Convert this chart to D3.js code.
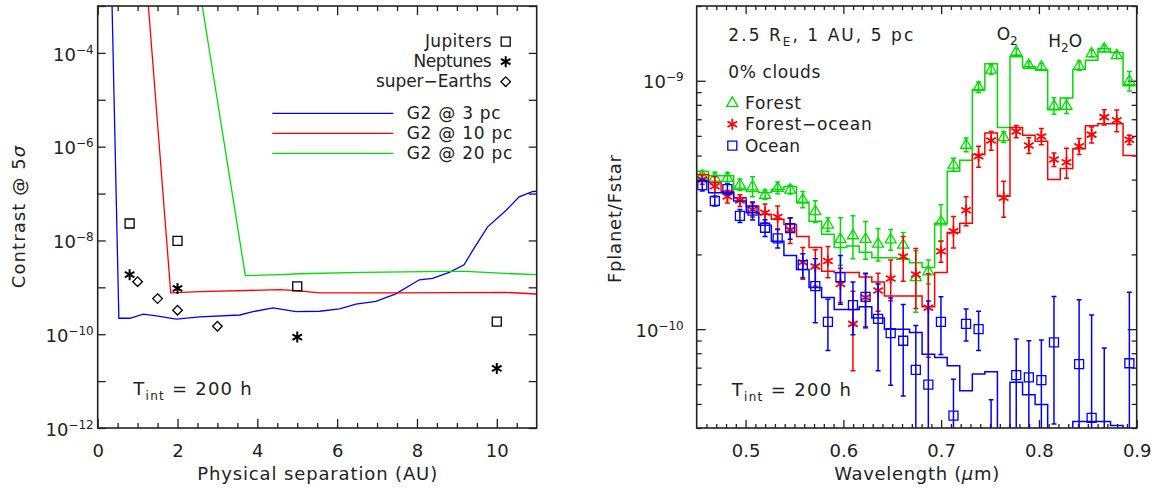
<!DOCTYPE html>
<html lang="en">
<head>
<meta charset="utf-8">
<title>contrast curves and spectra</title>
<script src="https://d3js.org/d3.v7.min.js"></script>
<style>
body { margin: 0; background: #fff; }
svg text { font-family: "DejaVu Sans", sans-serif; }
.pre { white-space: pre; }
</style>
</head>
<body>
<script>

// ---- left panel: 5 sigma contrast vs separation (AU)
var sepBlue = [0.36,0.53,0.81,1.14,1.47,1.97,2.56,3.56,3.89,4.39,4.97,5.56,6.06,6.47,6.97,7.47,8.06,8.39,8.81,9.18,9.42,9.77,10.23,10.56,10.89,11.0];
var conBlue = [1e-3,2.19e-10,2.19e-10,2.69e-10,2.45e-10,2.09e-10,2.34e-10,2.57e-10,3.02e-10,3.63e-10,3.02e-10,3.09e-10,3.47e-10,4.37e-10,5.01e-10,7.24e-10,1.45e-9,1.55e-9,2.09e-9,3.02e-9,6.61e-9,1.95e-8,4.37e-8,8.51e-8,1.10e-7,1.12e-7];
var sepRed = [1.27,1.83,2.56,4.56,4.97,5.56,7.47,10.23,11.0];
var conRed = [1e-3,7.6e-10,8.1e-10,8.9e-10,8.5e-10,7.6e-10,7.6e-10,7.8e-10,7.2e-10];
var sepGreen = [2.62,3.7,4.56,5.06,6.64,8.73,9.22,10.39,11.0];
var conGreen = [1e-3,1.78e-9,1.86e-9,1.95e-9,2.09e-9,2.19e-9,2.19e-9,1.95e-9,1.86e-9];
var curveNames = ["G2 @ 3 pc", "G2 @ 10 pc", "G2 @ 20 pc"];

var jupSep = [0.8, 2, 5, 10];
var jupCon = [2.3e-8, 9.8e-9, 1.05e-9, 1.86e-10];
var nepSep = [0.8, 2, 5, 10];
var nepCon = [1.86e-9, 9.5e-10, 8.7e-11, 1.86e-11];
var seSep = [1, 1.5, 2, 3];
var seCon = [1.32e-9, 5.75e-10, 3.24e-10, 1.48e-10];
var planetNames = ["Jupiters", "Neptunes", "super\u2212Earths"];

// ---- right panel: Fplanet/Fstar, in units of 1e-10
var unit = 1e-10;
var wavelength = [0.4557,0.4685,0.4814,0.4942,0.5071,0.5199,0.5328,0.5456,0.5585,0.5713,0.5842,0.5970,0.6098,0.6227,0.6355,0.6484,0.6612,0.6741,0.6869,0.6998,0.7126,0.7255,0.7383,0.7511,0.7640,0.7768,0.7897,0.8025,0.8154,0.8282,0.8411,0.8539,0.8668,0.8796,0.8925];

var forestModel = [4.32,4.15,4.15,3.65,3.58,3.55,3.65,3.75,3.24,2.72,2.41,2.13,2.16,2.04,1.94,1.94,1.91,1.85,1.77,2.67,4.32,4.79,9.2,11.7,6.49,12.5,11.4,11.1,7.65,8.52,11.1,12.1,13.5,13.0,9.55];
var forestObs = [4.15,4.08,4.07,3.82,3.76,3.48,3.71,3.65,3.33,2.99,2.64,2.31,2.39,2.31,2.21,2.30,2.19,1.62,1.71,2.72,4.60,5.53,9.43,11.1,5.94,13.1,11.6,11.4,7.94,7.94,11.5,12.9,13.5,12.7,10.0];
var forestErr = [0.16,0.2,0.2,0.2,0.35,0.15,0.2,0.15,0.25,0.3,0.17,0.5,0.47,0.4,0.33,0.22,0.26,0.45,0.19,0.45,0.28,0.35,0.45,0.5,0.3,0.4,0.35,0.35,0.6,0.55,0.5,0.4,0.4,0.4,0.9];

var mixModel = [4.19,3.89,3.59,3.38,3.13,2.90,2.77,2.64,2.36,2.13,1.71,1.69,1.69,1.62,1.55,1.36,1.36,1.36,1.23,1.69,2.45,2.67,5.05,6.16,3.43,6.49,6.03,5.71,4.00,4.43,5.33,6.59,6.72,6.72,5.00];
var mixObs = [4.00,3.76,3.42,3.30,3.03,2.94,2.83,2.51,1.86,1.79,1.88,1.52,1.05,1.34,1.43,1.60,1.96,1.66,1.22,2.06,2.48,3.01,4.97,5.75,3.38,6.25,5.49,5.97,4.82,4.70,5.45,6.07,7.14,6.93,5.79];
var mixErr = [0.17,0.35,0.2,0.18,0.2,0.25,0.3,0.3,0.27,0.3,0.27,0.24,0.37,0.33,0.25,0.3,0.4,0.45,0.45,0.2,0.36,0.4,0.48,0.5,0.56,0.35,0.4,0.45,0.3,0.65,0.4,0.45,0.5,0.7,0.25];

var oceanModel = [3.94,3.54,3.54,3.28,2.94,2.62,2.26,1.98,1.74,1.47,1.34,1.20,1.20,1.23,1.11,1.00,1.00,0.970,0.793,0.769,0.712,0.565,0.660,0.674,0.35,0.611,0.544,0.497,0.36,0.33,0.425,0.425,0.425,0.409,0.35];
var oceanObs = [3.80,3.28,3.66,2.86,3.00,2.56,2.32,2.55,1.81,1.49,1.07,1.62,1.25,1.35,1.10,0.964,0.898,0.685,0.598,1.07,0.449,1.05,1.00,0.18,0.10,0.653,0.639,0.624,0.885,0.12,0.723,0.439,0.20,0.08,0.729];
var oceanErr = [0.2,0.15,0.18,0.17,0.25,0.2,0.2,0.25,0.2,0.43,0.25,0.36,0.3,0.33,0.42,0.37,0.36,0.35,0.7,0.28,0.18,0.155,0.18,0.34,0.25,0.26,0.26,0.28,0.47,0.25,0.59,0.7,0.64,0.3,0.68];
var spectraNames = ["Forest", "Forest\u2212ocean", "Ocean"];

var ink = "#222";
var cBlue = "#0000ff", cRed = "#ff0000", cGreen = "#00dd00";

var svg = d3.select("body").append("svg").attr("width", 1157).attr("height", 489);

// marker shapes (IDL-like psym)
function sym(kind) {
  if (kind == "square") return "M-4.5,-4.5H4.5V4.5H-4.5Z";
  if (kind == "diamond") return "M0,-4.8L4.8,0L0,4.8L-4.8,0Z";
  if (kind == "triangle") return "M0,-5.8L5.5,3.6L-5.5,3.6Z";
  var r = 5.5, c = r * Math.cos(Math.PI / 6), s = r * Math.sin(Math.PI / 6);
  return "M0," + (-r) + "V" + r + "M" + (-c) + "," + (-s) + "L" + c + "," + s + "M" + (-c) + "," + s + "L" + c + "," + (-s);
}

function frame(g, b) {
  g.append("rect").attr("x", b.l).attr("y", b.t).attr("width", b.r - b.l).attr("height", b.b - b.t)
    .attr("fill", "none").attr("stroke", ink).attr("stroke-width", 1.6);
}

// inward ticks without labels
function tickSet(g, axis, vals, len, tr) {
  var a = g.append("g").attr("transform", tr).call(axis.tickValues(vals).tickSize(-len).tickFormat(""));
  a.select(".domain").remove();
  a.selectAll(".tick text").remove();
  a.selectAll(".tick line").attr("stroke", ink).attr("stroke-width", 1.3);
  return a;
}

function numLabels(g, axis, vals, fmt, tr) {
  var a = g.append("g").attr("transform", tr).call(axis.tickValues(vals).tickSize(0).tickPadding(16).tickFormat(fmt));
  a.select(".domain").remove();
  a.selectAll(".tick text").attr("font-size", 18).attr("fill", ink);
}

function powerLabels(g, axis, vals, pad, tr) {
  var a = g.append("g").attr("transform", tr).call(axis.tickValues(vals).tickSize(0).tickPadding(pad).tickFormat(""));
  a.select(".domain").remove();
  a.selectAll(".tick text").each(function(d) {
    var t = d3.select(this).attr("font-size", 18).attr("fill", ink).attr("dy", "0.4em");
    t.append("tspan").text("10");
    t.append("tspan").attr("dy", -7).attr("font-size", 12).text("\u2212" + Math.round(-Math.log10(d)));
  });
}

// text made of parts: plain strings, or {t, sub (dy down, small), up (dy), it}
function label(g, x, y, parts, opts) {
  opts = opts || {};
  var t = g.append("text").attr("class", "pre").attr("x", x).attr("y", y)
    .attr("font-size", opts.size || 17).attr("fill", ink)
    .attr("text-anchor", opts.anchor || "start");
  if (opts.len) t.attr("textLength", opts.len).attr("lengthAdjust", "spacing");
  if (opts.rotate) t.attr("transform", "rotate(-90," + x + "," + y + ")");
  parts.forEach(function(p) {
    if (typeof p == "string") p = {t: p};
    var s = t.append("tspan").text(p.t);
    if (p.sub) s.attr("font-size", 12).attr("dy", p.sub);
    if (p.up) s.attr("dy", p.up);
    if (p.it) s.attr("font-style", "italic");
  });
  return t;
}

// ================= left panel =================
var lb = {l: 97.7, r: 536.7, t: 6, b: 428};
var xSep = d3.scaleLinear().domain([0, 11]).range([lb.l, lb.r]);
var yCon = d3.scaleLog().domain([1e-12, 1e-3]).range([lb.b, lb.t]);
var gL = svg.append("g");

svg.append("clipPath").attr("id", "clipL").append("rect")
  .attr("x", lb.l).attr("y", lb.t).attr("width", lb.r - lb.l).attr("height", lb.b - lb.t);

var sepMajor = [0, 2, 4, 6, 8, 10];
var sepMinor = d3.range(0.5, 11, 0.5).filter(function(d) { return d % 2 != 0; });
var decades = d3.range(-12, -2).map(function(e) { return Math.pow(10, e); });
var evenDecades = [1e-12, 1e-10, 1e-8, 1e-6, 1e-4];

tickSet(gL, d3.axisBottom(xSep), sepMajor, 9, "translate(0," + lb.b + ")");
tickSet(gL, d3.axisBottom(xSep), sepMinor, 5, "translate(0," + lb.b + ")");
tickSet(gL, d3.axisTop(xSep), sepMajor, 9, "translate(0," + lb.t + ")");
tickSet(gL, d3.axisTop(xSep), sepMinor, 5, "translate(0," + lb.t + ")");
tickSet(gL, d3.axisLeft(yCon), decades, 8, "translate(" + lb.l + ",0)");
tickSet(gL, d3.axisRight(yCon), decades, 8, "translate(" + lb.r + ",0)");
numLabels(gL, d3.axisBottom(xSep), sepMajor, d3.format("d"), "translate(0," + lb.b + ")");
powerLabels(gL, d3.axisLeft(yCon), evenDecades, 4, "translate(" + lb.l + ",0)");

var conLine = d3.line().x(function(d) { return xSep(d[0]); }).y(function(d) { return yCon(d[1]); });
var curves = [[sepBlue, conBlue, cBlue], [sepRed, conRed, cRed], [sepGreen, conGreen, cGreen]];
var gCurves = gL.append("g").attr("clip-path", "url(#clipL)");
curves.forEach(function(c) {
  gCurves.append("path").datum(d3.zip(c[0], c[1])).attr("d", conLine)
    .attr("fill", "none").attr("stroke", c[2]).attr("stroke-width", 1.3);
});

var planets = [[jupSep, jupCon, "square"], [nepSep, nepCon, "asterisk"], [seSep, seCon, "diamond"]];
planets.forEach(function(p) {
  gL.selectAll(null).data(d3.zip(p[0], p[1])).enter().append("path")
    .attr("transform", function(d) { return "translate(" + xSep(d[0]) + "," + yCon(d[1]) + ")"; })
    .attr("d", sym(p[2])).attr("fill", "none").attr("stroke", "#000")
    .attr("stroke-width", p[2] == "asterisk" ? 2 : 1.3);
});

// legends
var planetLen = [66.7, 78.3, 115.7];
planetNames.forEach(function(n, i) {
  label(gL, 491.7, 47 + 20 * i, [n], {anchor: "end", len: planetLen[i]});
  gL.append("path").attr("transform", "translate(505.7," + (41.7 + 20 * i) + ")")
    .attr("d", sym(planets[i][2])).attr("fill", "none").attr("stroke", "#000")
    .attr("stroke-width", i == 1 ? 2 : 1.3);
});
var curveLen = [94, 105.6, 105.6];
curveNames.forEach(function(n, i) {
  var y = 113.3 + 20 * i;
  gL.append("line").attr("x1", 272.3).attr("x2", 393.3).attr("y1", y).attr("y2", y)
    .attr("stroke", curves[i][2]).attr("stroke-width", 1.3);
  label(gL, 406.7, y + 5.7, [n], {len: curveLen[i]});
});

label(gL, 133.3, 395, ["T", {t: "int", sub: 5}, {t: " = 200 h", up: -5}], {size: 18, len: 118.4});
label(gL, 317.2, 480, ["Physical separation (AU)"], {size: 18, anchor: "middle", len: 240});
label(gL, 25, 217, ["Contrast @ 5", {t: "\u03c3", it: true}], {size: 18, anchor: "middle", len: 142.6, rotate: true});

frame(gL, lb);

// ================= right panel =================
var rb = {l: 696.7, r: 1136.7, t: 6, b: 428};
var xWav = d3.scaleLinear().domain([0.45, 0.9]).range([rb.l, rb.r]);
var yFlux = d3.scaleLog().domain([4e-11, 2e-9]).range([rb.b, rb.t]);
var gR = svg.append("g");

svg.append("clipPath").attr("id", "clipR").append("rect")
  .attr("x", rb.l).attr("y", rb.t).attr("width", rb.r - rb.l).attr("height", rb.b - rb.t);

var wavMajor = [0.5, 0.6, 0.7, 0.8, 0.9];
var wavMinor = d3.range(46, 90).filter(function(d) { return d % 10 != 0; }).map(function(d) { return d / 100; });
var fluxMajor = [1e-10, 1e-9];
var fluxMinor = [4e-11, 5e-11, 6e-11, 7e-11, 8e-11, 9e-11].concat(d3.range(2, 10).map(function(d) { return d * 1e-10; })).concat([2e-9]);

tickSet(gR, d3.axisBottom(xWav), wavMajor, 8, "translate(0," + rb.b + ")");
tickSet(gR, d3.axisBottom(xWav), wavMinor, 4, "translate(0," + rb.b + ")");
tickSet(gR, d3.axisTop(xWav), wavMajor, 8, "translate(0," + rb.t + ")");
tickSet(gR, d3.axisTop(xWav), wavMinor, 4, "translate(0," + rb.t + ")");
tickSet(gR, d3.axisLeft(yFlux), fluxMajor, 9, "translate(" + rb.l + ",0)");
tickSet(gR, d3.axisLeft(yFlux), fluxMinor, 5, "translate(" + rb.l + ",0)");
tickSet(gR, d3.axisRight(yFlux), fluxMajor, 9, "translate(" + rb.r + ",0)");
tickSet(gR, d3.axisRight(yFlux), fluxMinor, 5, "translate(" + rb.r + ",0)");
numLabels(gR, d3.axisBottom(xWav), wavMajor, d3.format(".1f"), "translate(0," + rb.b + ")");
powerLabels(gR, d3.axisLeft(yFlux), fluxMajor, 13, "translate(" + rb.l + ",0)");

var stepLine = d3.line().x(function(d) { return xWav(d[0]); }).y(function(d) { return yFlux(d[1] * unit); }).curve(d3.curveStep);
function stepPoints(model) {
  var pts = d3.zip(wavelength, model);
  var half = (wavelength[1] - wavelength[0]) / 2;
  pts.unshift([wavelength[0] - half, model[0]]);
  pts.push([wavelength[wavelength.length - 1] + half, model[model.length - 1]]);
  return pts;
}

var spectra = [
  [forestModel, forestObs, forestErr, cGreen, "triangle"],
  [mixModel, mixObs, mixErr, cRed, "asterisk"],
  [oceanModel, oceanObs, oceanErr, cBlue, "square"]
];
var gData = gR.append("g").attr("clip-path", "url(#clipR)");
spectra.forEach(function(s) {
  var g = gData.append("g");
  g.append("path").datum(stepPoints(s[0])).attr("d", stepLine)
    .attr("fill", "none").attr("stroke", s[3]).attr("stroke-width", 1.5);
  var pts = wavelength.map(function(w, i) { return {w: w, v: s[1][i], e: s[2][i]}; });
  g.selectAll(null).data(pts).enter().append("path")
    .attr("d", function(d) {
      var x = xWav(d.w), y1 = yFlux(Math.max(d.v - d.e, 0.01) * unit), y2 = yFlux((d.v + d.e) * unit);
      return "M" + x + "," + y1 + "V" + y2 + "M" + (x - 2.5) + "," + y1 + "H" + (x + 2.5) + "M" + (x - 2.5) + "," + y2 + "H" + (x + 2.5);
    })
    .attr("fill", "none").attr("stroke", s[3]).attr("stroke-width", 1.5);
  g.selectAll(null).data(pts).enter().append("path")
    .attr("transform", function(d) { return "translate(" + xWav(d.w) + "," + yFlux(d.v * unit) + ")"; })
    .attr("d", sym(s[4])).attr("fill", "none").attr("stroke", s[3])
    .attr("stroke-width", s[4] == "asterisk" ? 1.8 : 1.3);
});

// annotations
label(gR, 728.3, 40.7, ["2.5 R", {t: "E", sub: 5}, {t: ", 1 AU, 5 pc", up: -5}], {len: 185});
label(gR, 728.3, 78.3, ["0% clouds"], {len: 92});
var specLen = [56, 126.7, 55];
spectraNames.forEach(function(n, i) {
  var y = [102.7, 124.3, 145.7][i];
  gR.append("path").attr("transform", "translate(732.3," + y + ")")
    .attr("d", sym(spectra[i][4])).attr("fill", "none").attr("stroke", spectra[i][3])
    .attr("stroke-width", i == 1 ? 1.8 : 1.3);
  label(gR, 745, y + 5.8, [n], {len: specLen[i]});
});
label(gR, 996.7, 40, ["O", {t: "2", sub: 5}]);
label(gR, 1048.3, 46.7, ["H", {t: "2", sub: 5}, {t: "O", up: -5}]);
label(gR, 731.7, 396, ["T", {t: "int", sub: 5}, {t: " = 200 h", up: -5}], {size: 18, len: 119.3});
label(gR, 916.7, 480, ["Wavelength (", {t: "\u03bc", it: true}, "m)"], {size: 18, anchor: "middle", len: 165});
label(gR, 621, 219, ["Fplanet/Fstar"], {size: 18, anchor: "middle", len: 128, rotate: true});

frame(gR, rb);

</script>
</body>
</html>
